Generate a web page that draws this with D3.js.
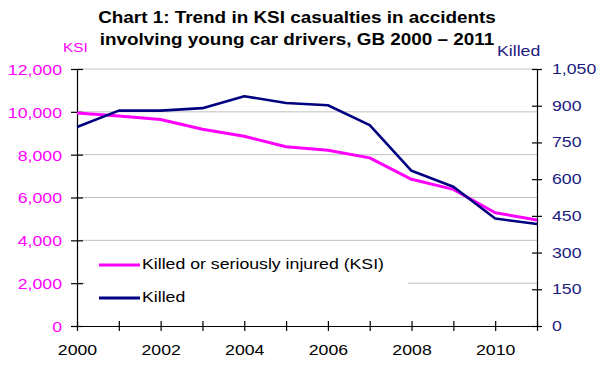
<!DOCTYPE html>
<html>
<head>
<meta charset="utf-8">
<script src="https://cdn.jsdelivr.net/npm/d3@7"></script>
<style>
  body { margin: 0; background: #fff; }
  text { font-family: "Liberation Sans", Arial, sans-serif; }
</style>
</head>
<body>
<div id="chart-root"></div>
<script>
// data
var years  = [2000, 2001, 2002, 2003, 2004, 2005, 2006, 2007, 2008, 2009, 2010, 2011];
var ksi    = [9950, 9800, 9640, 9190, 8860, 8370, 8210, 7850, 6850, 6380, 5290, 4950];
var killed = [813, 880, 880, 890, 939, 911, 902, 821, 634, 569, 439, 417];
var ksiTicks    = [0, 2000, 4000, 6000, 8000, 10000, 12000];
var killedTicks = [0, 150, 300, 450, 600, 750, 900, 1050];
var titleLines  = ["Chart 1: Trend in KSI casualties in accidents",
                   "involving young car drivers, GB 2000 \u2013 2011"];
var legendNames = ["Killed or seriously injured (KSI)", "Killed"];

(function () {
  var W = 608, H = 371;
  var margin = { top: 69, left: 77, right: 71, bottom: 45 },
      width  = W - margin.left - margin.right,
      height = H - margin.top - margin.bottom;
  var pink = "#ff00ff", navy = "#000080", navyText = "#1c1c80";
  var stretchK = 1.18; // the original picture is a bit wide

  var svg = d3.select("#chart-root")
    .append("svg")
      .attr("width", W)
      .attr("height", H);

  var g = svg.append("g")
      .attr("transform", "translate(" + margin.left + "," + margin.top + ")");

  var x = d3.scaleLinear().domain([2000, 2011]).range([0, width]);
  var yL = d3.scaleLinear().domain([0, 12000]).range([height, 0]);
  var yR = d3.scaleLinear().domain([0, 1050]).range([height, 0]);

  // gridlines
  g.append("g").selectAll("line")
    .data(ksiTicks.filter(function (d) { return d > 0; }))
    .enter().append("line")
      .attr("x1", 0).attr("x2", width)
      .attr("y1", function (d) { return yL(d); })
      .attr("y2", function (d) { return yL(d); })
      .attr("stroke", "#c0c0c0")
      .attr("stroke-width", 1);

  // left axis
  var axL = g.append("g")
      .call(d3.axisLeft(yL).tickValues(ksiTicks).tickFormat(d3.format(","))
        .tickSizeInner(6).tickSizeOuter(0).tickPadding(9));
  axL.selectAll(".tick line").attr("x1", 6);
  axL.selectAll("text").attr("fill", pink).style("font-size", "15px").attr("dy", "0.36em");

  // right axis
  var axR = g.append("g")
      .attr("transform", "translate(" + width + ",0)")
      .call(d3.axisRight(yR).tickValues(killedTicks).tickFormat(d3.format(","))
        .tickSizeInner(5).tickSizeOuter(0).tickPadding(10));
  axR.selectAll(".tick line").attr("x1", -5);
  axR.selectAll("text").attr("fill", navyText).style("font-size", "15px").attr("dy", "0.3em");

  // bottom axis
  var axB = g.append("g")
      .attr("transform", "translate(0," + height + ")")
      .call(d3.axisBottom(x).tickValues(years)
        .tickFormat(function (d) { return d % 2 === 0 ? d : ""; })
        .tickSizeInner(5).tickSizeOuter(0).tickPadding(13));
  axB.selectAll(".tick line").attr("y1", -5);
  axB.selectAll("text").attr("fill", "#000").style("font-size", "15px");

  [axL, axR, axB].forEach(function (a) {
    a.selectAll("path, line").attr("stroke", "#000").attr("stroke-width", 1.2);
  });

  // legend box (white, hides the gridline)
  var lg = svg.append("g");
  lg.append("rect")
      .attr("x", 85).attr("y", 246)
      .attr("width", 323).attr("height", 72)
      .attr("fill", "#fff");

  // lines
  var lineL = d3.line()
      .x(function (d, i) { return x(years[i]); })
      .y(function (d) { return yL(d); });
  var lineR = d3.line()
      .x(function (d, i) { return x(years[i]); })
      .y(function (d) { return yR(d); });

  g.append("path").datum(ksi)
      .attr("fill", "none").attr("stroke", pink)
      .attr("stroke-width", 3).attr("stroke-linejoin", "round")
      .attr("d", lineL);
  g.append("path").datum(killed)
      .attr("fill", "none").attr("stroke", navy)
      .attr("stroke-width", 2.6).attr("stroke-linejoin", "round")
      .attr("d", lineR);

  // legend entries
  var colors = [pink, navy];
  legendNames.forEach(function (name, i) {
    var yy = 265 + i * 33;
    lg.append("line")
        .attr("x1", 99).attr("x2", 140)
        .attr("y1", yy).attr("y2", yy)
        .attr("stroke", colors[i]).attr("stroke-width", 3);
    lg.append("text")
        .attr("x", 142).attr("y", yy + 3.5)
        .style("font-size", "15px")
        .attr("fill", "#000")
        .text(name);
  });

  // title
  svg.append("g").selectAll("text")
    .data(titleLines)
    .enter().append("text")
      .attr("x", 297)
      .attr("y", function (d, i) { return 23 + i * 21.5; })
      .attr("text-anchor", "middle")
      .style("font-size", "16px")
      .style("font-weight", "bold")
      .attr("fill", "#000")
      .text(function (d) { return d; });

  // axis captions
  svg.append("text")
      .attr("x", 63).attr("y", 52)
      .style("font-size", "13px")
      .attr("fill", pink)
      .text("KSI");
  svg.append("text")
      .attr("x", 497).attr("y", 56)
      .style("font-size", "15px")
      .attr("fill", navyText)
      .text("Killed");

  // widen every text a little, like the source image
  svg.selectAll("text").each(function () {
    var w = this.getComputedTextLength();
    if (w > 0) {
      d3.select(this)
        .attr("textLength", w * stretchK)
        .attr("lengthAdjust", "spacingAndGlyphs");
    }
  });
})();
</script>
</body>
</html>
